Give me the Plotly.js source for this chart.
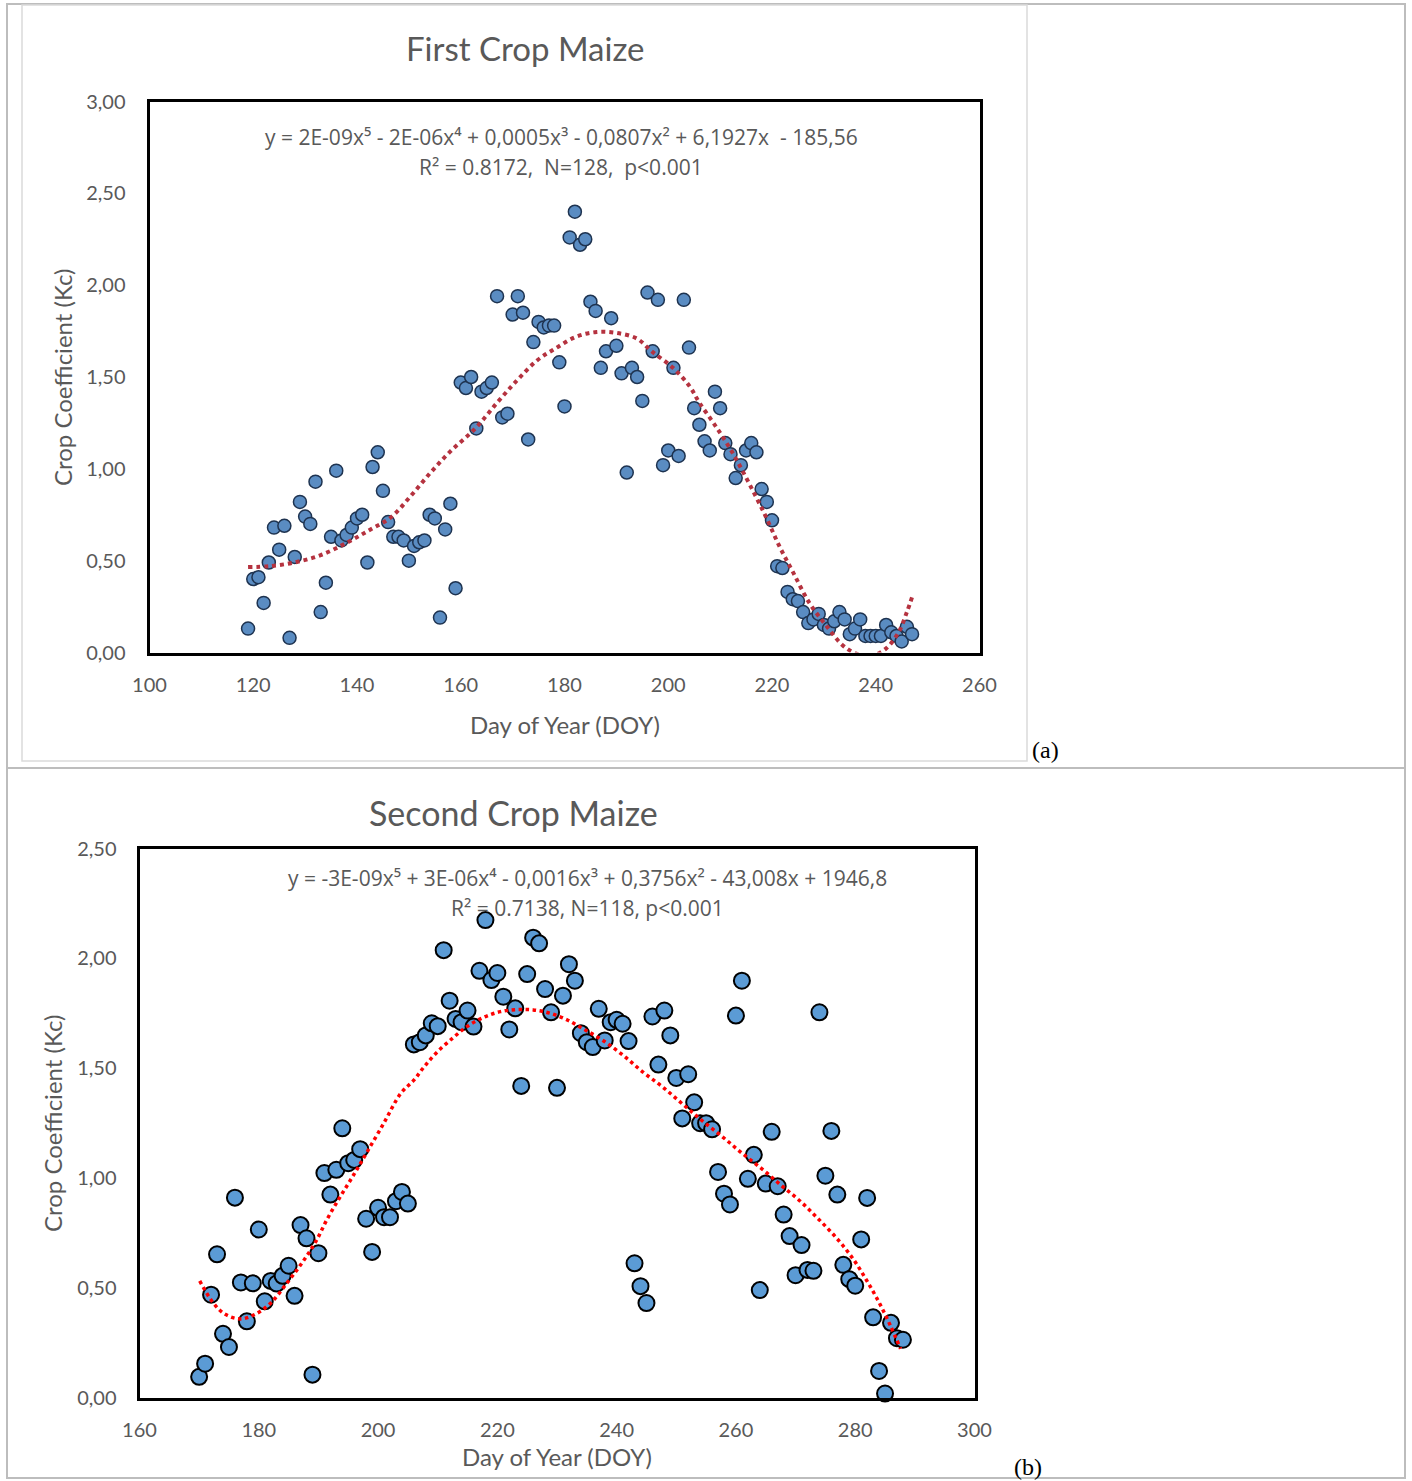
<!DOCTYPE html>
<html>
<head>
<meta charset="utf-8">
<script src="https://cdn.plot.ly/plotly-3.0.1.min.js"></script>
<style>
  html, body { margin: 0; padding: 0; background: #ffffff; }
  #chart { width: 1412px; height: 1481px; }
</style>
</head>
<body>
<div id="chart"></div>
<script>
// ---------- DATA: First crop maize ----------
const doyFirst = [119,120,121,122,123,124,125,126,127,128,129,130,131,132,133,134,135,136,137,138,139,140,141,142,143,144,145,146,147,148,149,150,151,152,153,154,155,156,157,158,159,160,161,162,163,164,165,166,167,168,169,170,171,172,173,174,175,176,177,178,179,180,181,182,183,184,185,186,187,188,189,190,191,192,193,194,195,196,197,198,199,200,201,202,203,204,205,206,207,208,209,210,211,212,213,214,215,216,217,218,219,220,221,222,223,224,225,226,227,228,229,230,231,232,233,234,235,236,237,238,239,240,241,242,243,244,245,246,247];
const kcFirst = [0.13,0.40,0.41,0.27,0.49,0.68,0.56,0.69,0.08,0.52,0.82,0.74,0.70,0.93,0.22,0.38,0.63,0.99,0.61,0.64,0.68,0.73,0.75,0.49,1.01,1.09,0.88,0.71,0.63,0.63,0.61,0.50,0.58,0.60,0.61,0.75,0.73,0.19,0.67,0.81,0.35,1.47,1.44,1.50,1.22,1.42,1.44,1.47,1.94,1.28,1.30,1.84,1.94,1.85,1.16,1.69,1.80,1.77,1.78,1.78,1.58,1.34,2.26,2.40,2.22,2.25,1.91,1.86,1.55,1.64,1.82,1.67,1.52,0.98,1.55,1.50,1.37,1.96,1.64,1.92,1.02,1.10,1.55,1.07,1.92,1.66,1.33,1.24,1.15,1.10,1.42,1.33,1.14,1.08,0.95,1.02,1.10,1.14,1.09,0.89,0.82,0.72,0.47,0.46,0.33,0.29,0.28,0.22,0.16,0.18,0.21,0.15,0.13,0.17,0.22,0.18,0.10,0.13,0.18,0.09,0.09,0.09,0.09,0.15,0.11,0.09,0.06,0.14,0.10];
// trend line
const trendDoyFirst = [119.0,123.1,127.9,133.0,138.2,142.6,146.5,150.3,154.2,158.0,162.8,167.0,170.8,174.7,178.5,182.3,186.2,190.0,193.9,196.8,200.9,204.1,206.0,209.2,212.4,215.6,218.8,221.4,224.0,227.2,230.4,233.6,236.1,239.0,241.9,244.4,246.0,247.1];
const trendKcFirst = [0.465,0.47,0.49,0.53,0.60,0.67,0.735,0.85,0.98,1.095,1.22,1.36,1.48,1.59,1.66,1.72,1.745,1.74,1.71,1.64,1.55,1.45,1.36,1.23,1.087,0.92,0.74,0.58,0.44,0.27,0.148,0.04,-0.005,-0.02,0.02,0.11,0.22,0.31];

// ---------- DATA: Second crop maize ----------
const doySecond = [170,171,172,173,174,175,176,177,178,179,180,181,182,183,184,185,186,187,188,189,190,191,192,193,194,195,196,197,198,199,200,201,202,203,204,205,206,207,208,209,210,211,212,213,214,215,216,217,218,219,220,221,222,223,224,225,226,227,228,229,230,231,232,233,234,235,236,237,238,239,240,241,242,243,244,245,246,247,248,249,250,251,252,253,254,255,256,257,258,259,260,261,262,263,264,265,266,267,268,269,270,271,272,273,274,275,276,277,278,279,280,281,282,283,284,285,286,287,288];
const kcSecond = [0.094,0.154,0.468,0.652,0.29,0.23,0.91,0.524,0.347,0.52,0.765,0.438,0.531,0.519,0.554,0.60,0.463,0.785,0.725,0.104,0.657,1.022,0.924,1.037,1.226,1.067,1.082,1.131,0.814,0.663,0.864,0.821,0.821,0.894,0.936,0.883,1.608,1.618,1.649,1.704,1.691,2.037,1.807,1.724,1.709,1.762,1.689,1.943,2.174,1.901,1.933,1.825,1.676,1.772,1.419,1.928,2.094,2.068,1.86,1.754,1.41,1.83,1.973,1.898,1.659,1.618,1.596,1.77,1.626,1.709,1.72,1.702,1.623,0.611,0.507,0.43,1.735,1.516,1.762,1.649,1.455,1.271,1.472,1.344,1.249,1.249,1.221,1.027,0.928,0.879,1.739,1.898,0.996,1.105,0.489,0.974,1.21,0.962,0.833,0.735,0.557,0.694,0.581,0.577,1.754,1.01,1.214,0.924,0.604,0.539,0.509,0.72,0.909,0.365,0.121,0.018,0.34,0.27,0.263];
const trendDoySecond = [170.1,172.3,174.3,177.0,179.8,182.1,184.8,187.3,189.6,191.5,193.7,196.0,198.2,201.0,203.8,206.0,207.7,209.9,212.7,214.9,217.7,220.5,223.3,226.0,228.8,231.6,234.4,237.7,241.1,244.4,247.8,251.1,254.4,257.7,261.0,264.4,267.6,270.9,273.9,276.9,279.6,281.9,284.0,285.9,287.6];
const trendKcSecond = [0.531,0.433,0.38,0.358,0.385,0.433,0.524,0.615,0.712,0.814,0.916,1.018,1.12,1.251,1.385,1.445,1.505,1.573,1.641,1.689,1.731,1.757,1.766,1.765,1.75,1.721,1.679,1.626,1.558,1.482,1.412,1.335,1.259,1.188,1.113,1.04,0.966,0.891,0.811,0.725,0.633,0.534,0.433,0.327,0.222];

// ---------- TEXT ----------
const titleFirst = 'First Crop Maize';
const titleSecond = 'Second Crop Maize';
const eqFirst = 'y = 2E-09x⁵ - 2E-06x⁴ + 0,0005x³ - 0,0807x² + 6,1927x  - 185,56';
const statsFirst = 'R² = 0.8172,  N=128,  p<0.001';
const eqSecond = 'y = -3E-09x⁵ + 3E-06x⁴ - 0,0016x³ + 0,3756x² - 43,008x + 1946,8';
const statsSecond = 'R² = 0.7138, N=118, p<0.001';
const xTitle = 'Day of Year (DOY)';
const yTitle = 'Crop Coefficient (Kc)';

// ---------- LAYOUT HELPERS ----------
const W = 1412, H = 1481;
const fx = p => p / W;
const fy = p => 1 - p / H;
const FONT = 'Lato, "Open Sans", sans-serif';
const EQFONT = '"Open Sans", Lato, sans-serif';
const GREY = '#595959';

const traces = [
  {x: doyFirst, y: kcFirst, type: 'scatter', mode: 'markers', xaxis: 'x', yaxis: 'y',
   marker: {size: 13, color: '#5A8CC2', line: {color: '#1E3350', width: 1.5}}, cliponaxis: false},
  {x: trendDoyFirst, y: trendKcFirst, type: 'scatter', mode: 'lines', xaxis: 'x', yaxis: 'y',
   line: {color: '#B5323F', width: 4, dash: '4px,4px', shape: 'spline'}},
  {x: doySecond, y: kcSecond, type: 'scatter', mode: 'markers', xaxis: 'x2', yaxis: 'y2',
   marker: {size: 16, color: '#5B9BD5', line: {color: '#000000', width: 2}}, cliponaxis: false},
  {x: trendDoySecond, y: trendKcSecond, type: 'scatter', mode: 'lines', xaxis: 'x2', yaxis: 'y2',
   line: {color: '#FF0000', width: 3.5, dash: '3.5px,3.5px', shape: 'spline'}}
];

function axisCommon(standoff) {
  return {
    showline: true, mirror: true, linecolor: '#000000', linewidth: 3,
    showgrid: false, zeroline: false, ticks: '', fixedrange: true,
    tickfont: {family: FONT, size: 20, color: GREY}, ticklabelstandoff: standoff
  };
}

const layout = {
  width: W, height: H,
  margin: {l: 0, r: 0, t: 0, b: 0},
  paper_bgcolor: '#ffffff', plot_bgcolor: '#ffffff',
  showlegend: false,
  separators: ',.',
  xaxis: Object.assign(axisCommon(12), {domain: [fx(149.5), fx(979.5)], range: [100, 260], tick0: 100, dtick: 20, anchor: 'y'}),
  yaxis: Object.assign(axisCommon(17), {domain: [fy(652.5), fy(101.5)], range: [0, 3], tick0: 0, dtick: 0.5, tickformat: '.2f', anchor: 'x'}),
  xaxis2: Object.assign(axisCommon(12), {domain: [fx(139.5), fx(974.5)], range: [160, 300], tick0: 160, dtick: 20, anchor: 'y2'}),
  yaxis2: Object.assign(axisCommon(16), {domain: [fy(1397.5), fy(848.5)], range: [0, 2.5], tick0: 0, dtick: 0.5, tickformat: '.2f', anchor: 'x2'}),
  shapes: [
    // table frame
    {type: 'line', xref: 'paper', yref: 'paper', x0: fx(6), x1: fx(1406), y0: fy(4), y1: fy(4), line: {color: '#BDBDBD', width: 2}},
    {type: 'line', xref: 'paper', yref: 'paper', x0: fx(7), x1: fx(7), y0: fy(4), y1: fy(1478), line: {color: '#BDBDBD', width: 2}},
    {type: 'line', xref: 'paper', yref: 'paper', x0: fx(1405), x1: fx(1405), y0: fy(4), y1: fy(1478), line: {color: '#BDBDBD', width: 2}},
    {type: 'line', xref: 'paper', yref: 'paper', x0: fx(6), x1: fx(1406), y0: fy(768), y1: fy(768), line: {color: '#BDBDBD', width: 2}},
    {type: 'line', xref: 'paper', yref: 'paper', x0: fx(6), x1: fx(1406), y0: fy(1478), y1: fy(1478), line: {color: '#BDBDBD', width: 2}},
    // chart (a) image frame
    {type: 'rect', xref: 'paper', yref: 'paper', x0: fx(22), x1: fx(1027), y0: fy(761), y1: fy(5), line: {color: '#DADADA', width: 1.5}}
  ],
  annotations: [
    {text: titleFirst, xref: 'paper', yref: 'paper', x: fx(525), y: fy(48), xanchor: 'center', yanchor: 'middle', showarrow: false, font: {family: FONT, size: 33, color: GREY}},
    {text: eqFirst, xref: 'paper', yref: 'paper', x: fx(561), y: fy(137), xanchor: 'center', yanchor: 'middle', showarrow: false, font: {family: EQFONT, size: 21, color: GREY}},
    {text: statsFirst, xref: 'paper', yref: 'paper', x: fx(561), y: fy(167), xanchor: 'center', yanchor: 'middle', showarrow: false, font: {family: EQFONT, size: 21, color: GREY}},
    {text: xTitle, xref: 'paper', yref: 'paper', x: fx(565), y: fy(724), xanchor: 'center', yanchor: 'middle', showarrow: false, font: {family: FONT, size: 24, color: GREY}},
    {text: yTitle, xref: 'paper', yref: 'paper', x: fx(62), y: fy(378), xanchor: 'center', yanchor: 'middle', textangle: -90, showarrow: false, font: {family: FONT, size: 24, color: GREY}},
    {text: '(a)', xref: 'paper', yref: 'paper', x: fx(1045), y: fy(750), xanchor: 'center', yanchor: 'middle', showarrow: false, font: {family: '"Liberation Serif", "DejaVu Serif", serif', size: 24, color: '#000000'}},

    {text: titleSecond, xref: 'paper', yref: 'paper', x: fx(513), y: fy(812), xanchor: 'center', yanchor: 'middle', showarrow: false, font: {family: FONT, size: 34, color: GREY}},
    {text: eqSecond, xref: 'paper', yref: 'paper', x: fx(587), y: fy(878), xanchor: 'center', yanchor: 'middle', showarrow: false, font: {family: EQFONT, size: 21, color: GREY}},
    {text: statsSecond, xref: 'paper', yref: 'paper', x: fx(587), y: fy(908), xanchor: 'center', yanchor: 'middle', showarrow: false, font: {family: EQFONT, size: 21, color: GREY}},
    {text: xTitle, xref: 'paper', yref: 'paper', x: fx(557), y: fy(1456), xanchor: 'center', yanchor: 'middle', showarrow: false, font: {family: FONT, size: 24, color: GREY}},
    {text: yTitle, xref: 'paper', yref: 'paper', x: fx(52), y: fy(1124), xanchor: 'center', yanchor: 'middle', textangle: -90, showarrow: false, font: {family: FONT, size: 24, color: GREY}},
    {text: '(b)', xref: 'paper', yref: 'paper', x: fx(1028), y: fy(1467), xanchor: 'center', yanchor: 'middle', showarrow: false, font: {family: '"Liberation Serif", "DejaVu Serif", serif', size: 24, color: '#000000'}}
  ]
};

Plotly.newPlot('chart', traces, layout, {staticPlot: true, displayModeBar: false});
</script>
</body>
</html>
